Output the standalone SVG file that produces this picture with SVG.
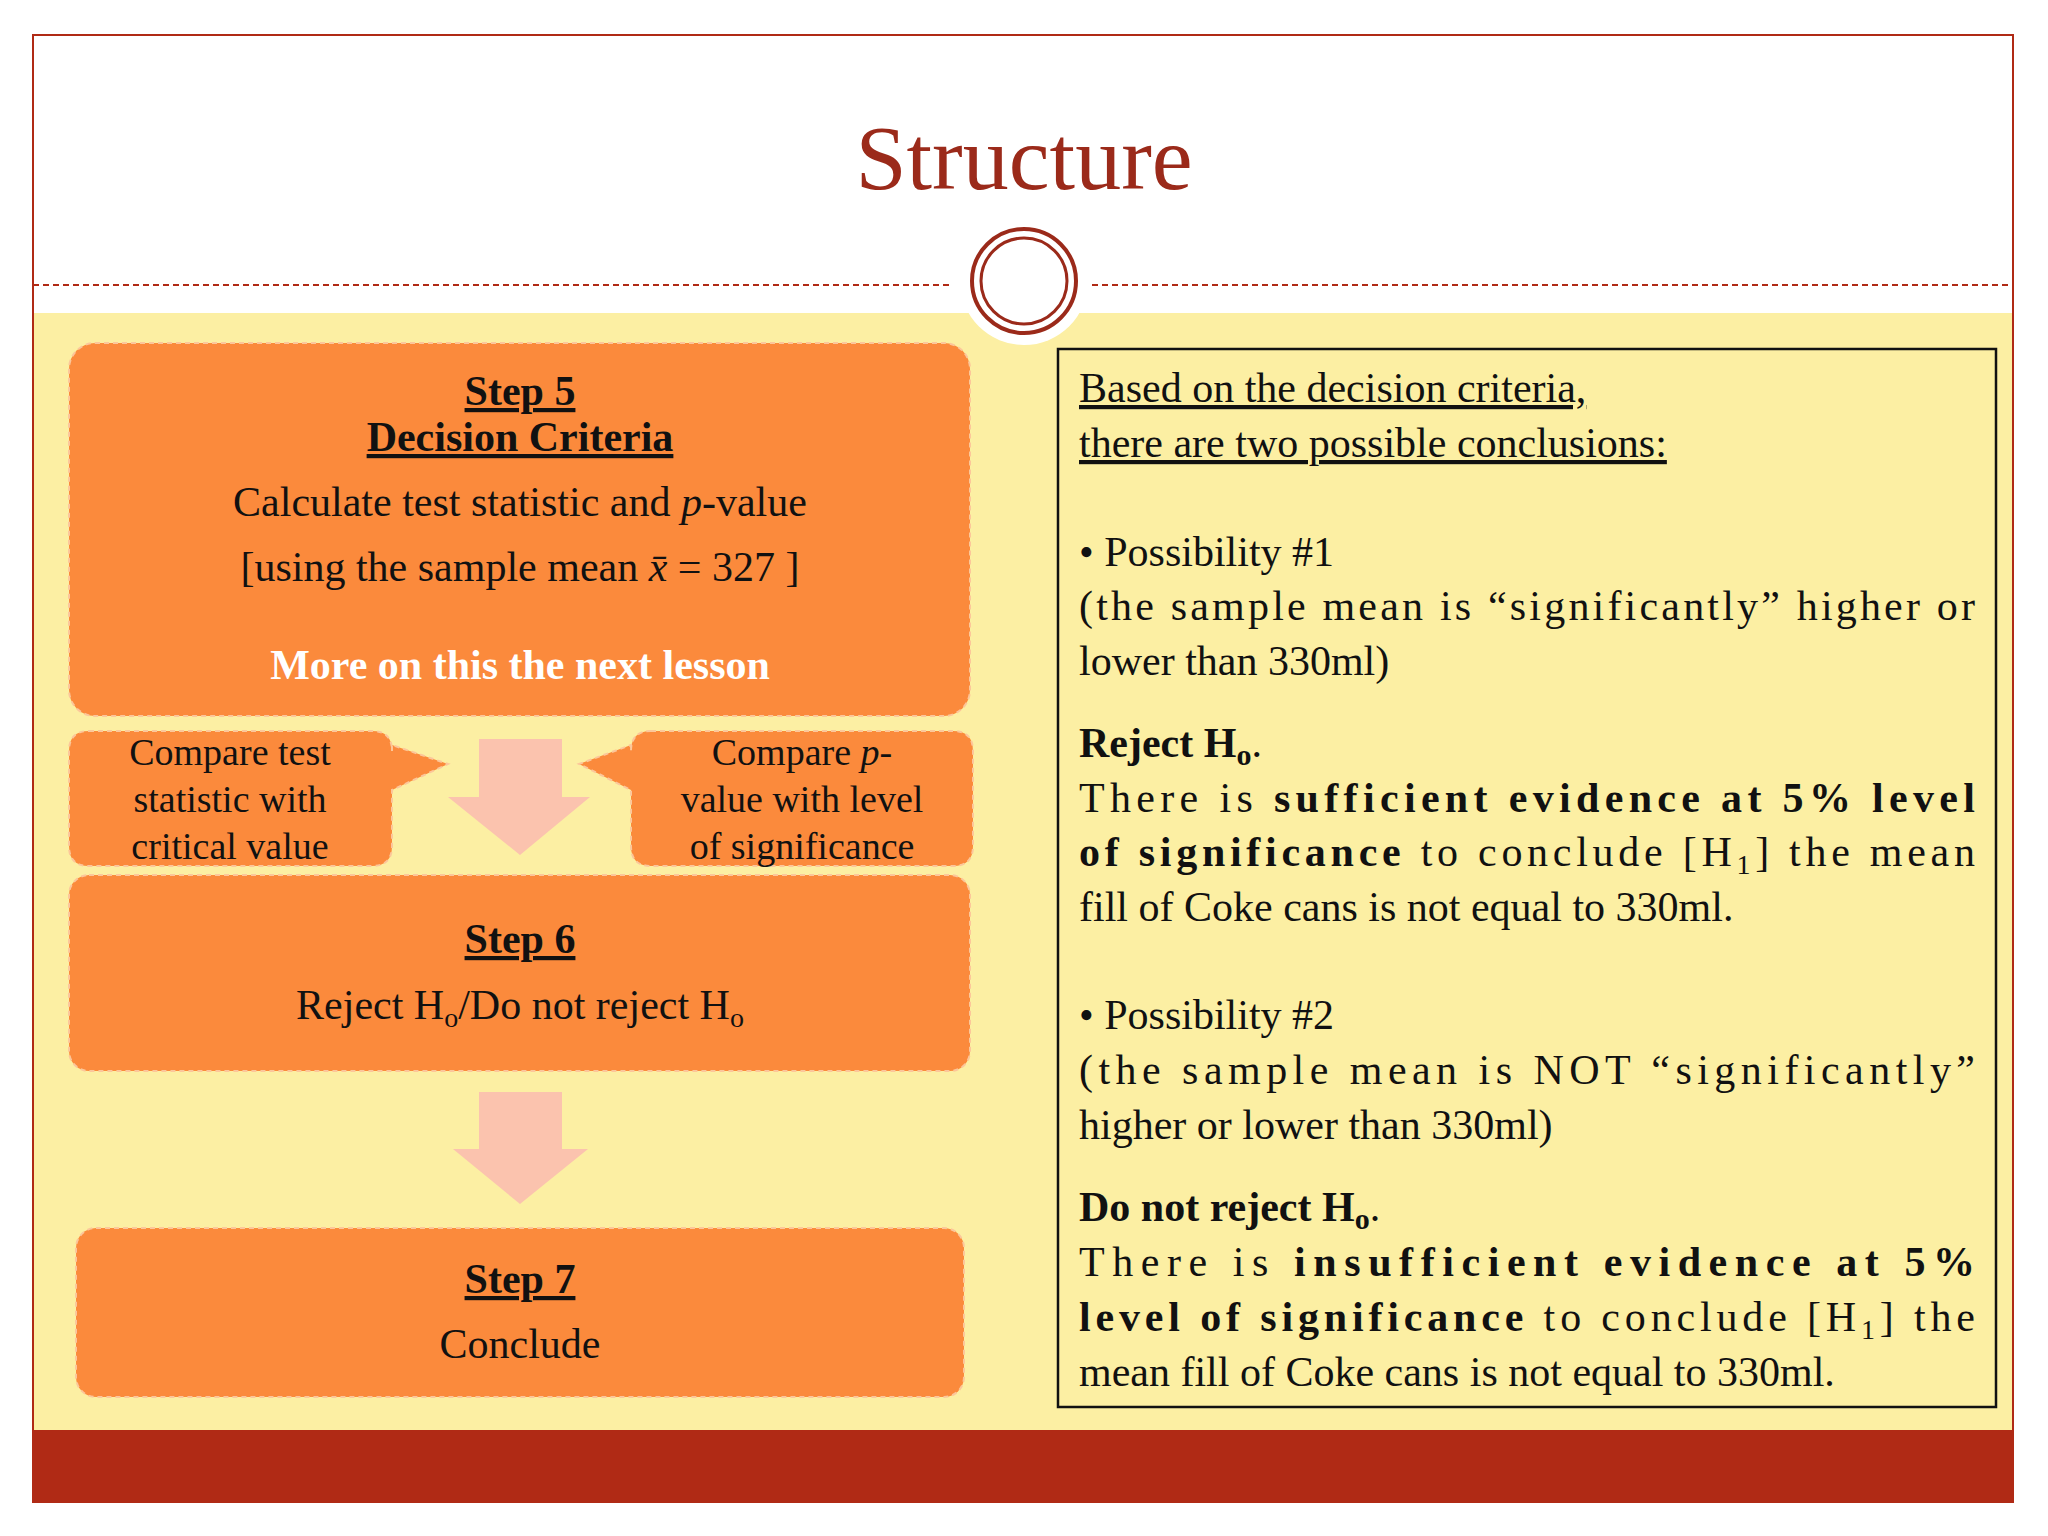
<svg xmlns="http://www.w3.org/2000/svg" width="2048" height="1536" viewBox="0 0 2048 1536">
<style>
text{font-family:"Liberation Serif","DejaVu Serif",serif;fill:#111}
.b{font-weight:bold}
.u{text-decoration:underline}
.c{text-anchor:middle}
.box{fill:#FB8A3C;stroke:#FCC79A;stroke-width:2;stroke-dasharray:5 4}
.arr{fill:#FBC3AE}
.r{font-size:42px}
.s{font-size:38px}
</style>
<rect x="0" y="0" width="2048" height="1536" fill="#fff"/>
<rect x="33" y="313" width="1980" height="1117" fill="#FCEFA3"/>
<rect x="33" y="1430" width="1980" height="72" fill="#B02A15"/>
<rect x="33" y="35" width="1980" height="1467" fill="none" stroke="#B02A15" stroke-width="2"/>
<text x="1024" y="189" class="c" style="font-size:92px;fill:#9B2A1A">Structure</text>
<g stroke="#B02A15" stroke-width="2" stroke-dasharray="6 4"><line x1="33" y1="285" x2="953" y2="285"/><line x1="1092" y1="285" x2="2013" y2="285"/></g>
<circle cx="1024" cy="281" r="64" fill="#fff"/>
<circle cx="1024" cy="281" r="52" fill="#fff" stroke="#9B2A1A" stroke-width="4"/>
<circle cx="1024" cy="281" r="43" fill="none" stroke="#9B2A1A" stroke-width="3"/>
<g id="connectors">
<polygon class="arr" points="479,739 562,739 562,797 590,797 520,855 448,797 479,797"/>
<polygon class="arr" points="479,1092 562,1092 562,1149 588,1149 520,1204 453,1149 479,1149"/>
</g>
<g id="step5">
<rect class="box" x="69" y="343" width="901" height="373" rx="26"/>
<text x="520" y="405" class="c b u r">Step 5</text>
<text x="520" y="451" class="c b u r">Decision Criteria</text>
<text x="520" y="516" class="c r">Calculate test statistic and <tspan font-style="italic">p</tspan>-value</text>
<text x="520" y="581" class="c r">[using the sample mean  <tspan font-style="italic">x̄</tspan> = 327  ]</text>
<text x="520" y="679" class="c b r" style="fill:#fff">More on this the next lesson</text>
</g>
<g id="callout-left">
<path class="box" d="M89,731 H372 Q392,731 392,751 V745 L448,764 L392,790 V846 Q392,866 372,866 H89 Q69,866 69,846 V751 Q69,731 89,731 Z"/>
<text x="230" y="765" class="c s">Compare test</text>
<text x="230" y="812" class="c s">statistic with</text>
<text x="230" y="859" class="c s">critical value</text>
</g>
<g id="callout-right">
<path class="box" d="M651,731 H953 Q973,731 973,751 V846 Q973,866 953,866 H651 Q631,866 631,846 V790 L579,764 L631,745 V751 Q631,731 651,731 Z"/>
<text x="802" y="765" class="c s">Compare <tspan font-style="italic">p</tspan>-</text>
<text x="802" y="812" class="c s">value with level</text>
<text x="802" y="859" class="c s">of significance</text>
</g>
<g id="step6">
<rect class="box" x="69" y="875" width="901" height="196" rx="20"/>
<text x="520" y="953" class="c b u r">Step 6</text>
<text x="520" y="1019" class="c r">Reject H<tspan font-size="28" dy="8">o</tspan><tspan dy="-8">/Do not reject H</tspan><tspan font-size="28" dy="8">o</tspan></text>
</g>
<g id="step7">
<rect class="box" x="76" y="1228" width="888" height="169" rx="20"/>
<text x="520" y="1293" class="c b u r">Step 7</text>
<text x="520" y="1358" class="c r">Conclude</text>
</g>
<g id="conclusions">
<rect x="1058" y="349" width="938" height="1058" fill="none" stroke="#111" stroke-width="2.5"/>
<g class="r">
<text x="1079" y="402" class="u">Based on the decision criteria,</text>
<text x="1079" y="457" class="u">there are two possible conclusions:</text>
<text x="1079" y="566">• Possibility #1</text>
<text x="1079" y="620" textLength="896" lengthAdjust="spacing">(the sample mean is “significantly” higher or</text>
<text x="1079" y="675">lower than 330ml)</text>
<text x="1079" y="757"><tspan class="b">Reject H</tspan><tspan class="b" font-size="30" dy="8">o</tspan><tspan dy="-8">.</tspan></text>
<text x="1079" y="812" textLength="896" lengthAdjust="spacing">There is <tspan class="b">sufficient evidence at 5% level</tspan></text>
<text x="1079" y="866" textLength="896" lengthAdjust="spacing"><tspan class="b">of significance</tspan> to conclude [H<tspan font-size="28" dy="8">1</tspan><tspan dy="-8">] the mean</tspan></text>
<text x="1079" y="921">fill of Coke cans is not equal to 330ml.</text>
<text x="1079" y="1029">• Possibility #2</text>
<text x="1079" y="1084" textLength="896" lengthAdjust="spacing">(the  sample  mean  is  NOT  “significantly”</text>
<text x="1079" y="1139">higher or lower than 330ml)</text>
<text x="1079" y="1221"><tspan class="b">Do not reject H</tspan><tspan class="b" font-size="30" dy="8">o</tspan><tspan dy="-8">.</tspan></text>
<text x="1079" y="1276" textLength="896" lengthAdjust="spacing">There  is  <tspan class="b">insufficient  evidence  at  5%</tspan></text>
<text x="1079" y="1331" textLength="896" lengthAdjust="spacing"><tspan class="b">level of significance</tspan> to conclude [H<tspan font-size="28" dy="8">1</tspan><tspan dy="-8">] the</tspan></text>
<text x="1079" y="1386">mean fill of Coke cans is not equal to 330ml.</text>
</g>
</g>
</svg>
